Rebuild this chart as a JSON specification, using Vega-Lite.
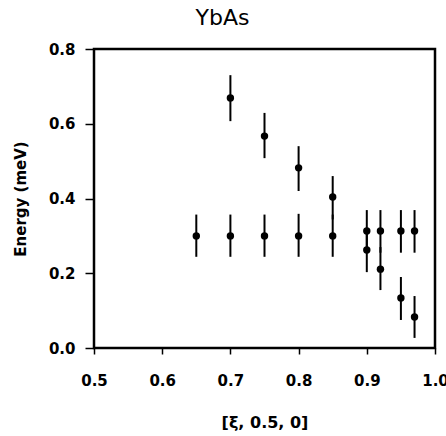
{
  "$schema": "https://vega.github.io/schema/vega-lite/v6.json",
  "width": 341,
  "height": 299,
  "autosize": {"type": "none"},
  "padding": {"left": 94, "top": 49, "right": 11, "bottom": 88},
  "background": "white",
  "title": {"text": "YbAs", "font": "DejaVu Sans", "fontSize": 22, "fontWeight": "normal", "color": "black", "anchor": "middle", "dx": -42, "offset": 12},
  "config": {
    "view": {"stroke": "black", "strokeWidth": 2.5},
    "axis": {"grid": false, "domain": false, "tickColor": "black", "tickWidth": 1.5, "labelColor": "black", "titleColor": "black", "labelFont": "DejaVu Sans", "titleFont": "DejaVu Sans", "labelFontSize": 15, "labelFontWeight": "bold", "titleFontSize": 15, "titleFontWeight": "bold", "labelFlush": false}
  },
  "data": {"values": [
    {"xi": 0.65, "e": 0.30, "lo": 0.244, "hi": 0.357},
    {"xi": 0.70, "e": 0.30, "lo": 0.244, "hi": 0.357},
    {"xi": 0.70, "e": 0.669, "lo": 0.607, "hi": 0.73},
    {"xi": 0.75, "e": 0.30, "lo": 0.244, "hi": 0.357},
    {"xi": 0.75, "e": 0.567, "lo": 0.508, "hi": 0.629},
    {"xi": 0.80, "e": 0.30, "lo": 0.244, "hi": 0.359},
    {"xi": 0.80, "e": 0.482, "lo": 0.42, "hi": 0.54},
    {"xi": 0.85, "e": 0.30, "lo": 0.244, "hi": 0.357},
    {"xi": 0.85, "e": 0.404, "lo": 0.344, "hi": 0.46},
    {"xi": 0.90, "e": 0.313, "lo": 0.255, "hi": 0.369},
    {"xi": 0.90, "e": 0.262, "lo": 0.203, "hi": 0.32},
    {"xi": 0.92, "e": 0.313, "lo": 0.255, "hi": 0.369},
    {"xi": 0.92, "e": 0.211, "lo": 0.155, "hi": 0.27},
    {"xi": 0.95, "e": 0.313, "lo": 0.255, "hi": 0.369},
    {"xi": 0.95, "e": 0.134, "lo": 0.075, "hi": 0.19},
    {"xi": 0.97, "e": 0.313, "lo": 0.255, "hi": 0.369},
    {"xi": 0.97, "e": 0.083, "lo": 0.027, "hi": 0.139}
  ]},
  "encoding": {
    "x": {"field": "xi", "type": "quantitative", "scale": {"domain": [0.5, 1.0], "nice": false, "zero": false},
      "axis": {"title": "[ξ, 0.5, 0]", "titleFontSize": 16, "values": [0.5, 0.6, 0.7, 0.8, 0.9, 1.0], "format": ".1f", "tickSize": 6, "labelPadding": 19, "titlePadding": 26}}
  },
  "layer": [
    {"mark": {"type": "rule", "color": "black", "strokeWidth": 2},
     "encoding": {"y": {"field": "lo", "type": "quantitative", "scale": {"domain": [0, 0.8], "nice": false},
       "axis": {"title": "Energy (meV)", "values": [0, 0.2, 0.4, 0.6, 0.8], "format": ".1f", "tickSize": 9, "labelPadding": 10, "titlePadding": 20}},
       "y2": {"field": "hi"}}},
    {"mark": {"type": "circle", "color": "black", "opacity": 1, "size": 55},
     "encoding": {"y": {"field": "e", "type": "quantitative"}}}
  ]
}
